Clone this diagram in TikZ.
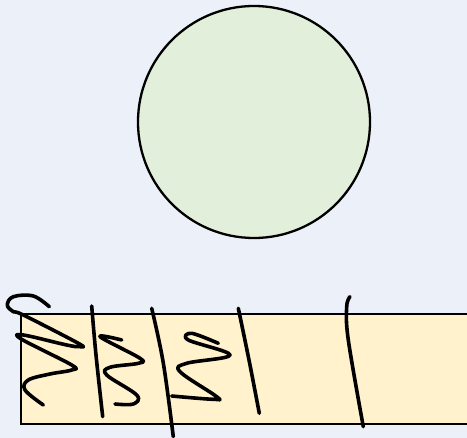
\documentclass[tikz,border=0pt]{standalone}
\begin{document}
\begin{tikzpicture}[x=1pt,y=-1pt,
  scrib/.style={line width=3.6pt,line cap=round,line join=round},
  bord/.style={draw=black,line width=2.3pt}]
\definecolor{bg}{RGB}{235,240,249}
\definecolor{cfill}{RGB}{226,239,218}
\definecolor{rfill}{RGB}{255,242,204}
\fill[bg] (0,0) rectangle (467,438);
\useasboundingbox (0,0) rectangle (467,438);
\node[bord,fill=cfill,circle,minimum size=232pt,inner sep=0pt] (ball) at (254,122) {};
\begin{scope}
\clip (0,0) rectangle (467,438);
\node[bord,fill=rfill,rectangle,minimum width=460pt,minimum height=110pt,inner sep=0pt,anchor=north west] (bar) at (20,313) {};
\end{scope}
\draw[scrib] plot[smooth,tension=0.6] coordinates {(49.3,306.7) (33.3,296) (13.3,296.7) (7.3,305) (13.3,311.7) (23.3,315) (78.3,343.3) (80,346.7) (66.7,345) (23.3,335) (21.7,339.3) (71.7,365) (71.7,370) (50,374) (28.3,380) (25,390) (43.3,405)};
\draw[scrib] plot[smooth,tension=0.6] coordinates {(91.7,306) (96,355) (102.7,416.7)};
\draw[scrib] plot[smooth,tension=0.6] coordinates {(121.7,340) (100,336.7) (140,358.3) (138.3,363.3) (110,367.3) (106.7,375) (136.7,395) (133.3,404) (115,404)};
\draw[scrib] plot[smooth,tension=0.6] coordinates {(151.7,308.3) (163.3,363) (173.3,436.7)};
\draw[scrib] plot[smooth,tension=0.6] coordinates {(218.3,343.3) (191.7,333.3) (188.3,340) (230,355) (186.7,363.3) (180,371.7) (216.7,396.7) (213.3,399.3) (171.7,396)};
\draw[scrib] plot[smooth,tension=0.6] coordinates {(238.3,308.3) (249,360) (259.3,413.3)};
\draw[scrib] plot[smooth,tension=0.6] coordinates {(350,296.7) (346.7,306.7) (348.3,340) (363.3,426.7)};
\end{tikzpicture}
\end{document}
